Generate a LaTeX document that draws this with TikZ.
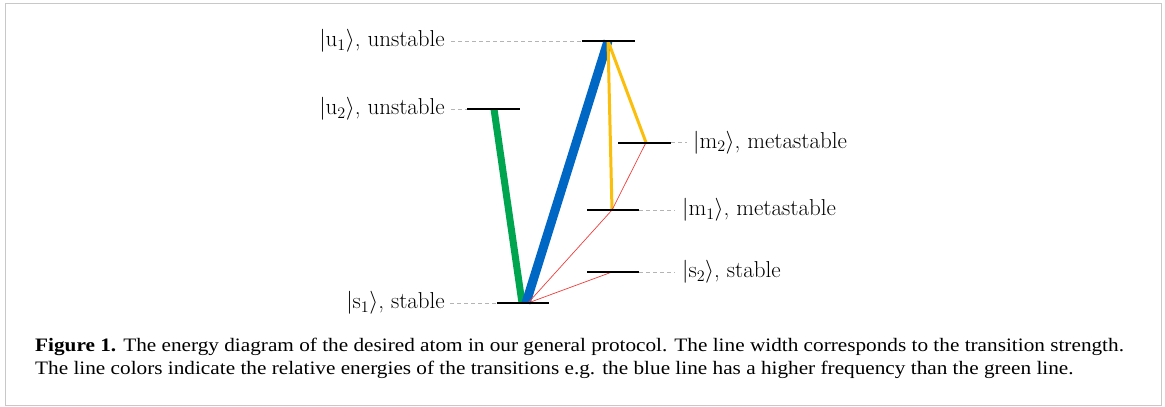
\RequirePackage{fix-cm}
\documentclass[tikz,border=0pt]{standalone}
\usepackage{fontspec}
\newfontfamily\capfont[FakeStretch=1.118]{Liberation Serif}
\definecolor{frame}{HTML}{C8C8C8}
\definecolor{dashgray}{HTML}{B4B4B4}
\definecolor{tblue}{HTML}{0068C4}
\definecolor{tgreen}{HTML}{00A550}
\definecolor{tyellow}{HTML}{FBBE0A}
\definecolor{tred}{HTML}{F03C3C}
\tikzset{
  level/.style={line width=2pt, black},
  guide/.style={dashgray, line width=1pt, dash pattern=on 4pt off 3pt},
  lbl/.style={inner sep=0pt, font=\fontsize{23}{27}\selectfont},
  capline/.style={inner sep=0pt, anchor=base west, font=\capfont\fontsize{19}{23}\selectfont},
  trans/.style={line cap=butt}
}
\begin{document}
\begin{tikzpicture}[x=1pt,y=-1pt]
\useasboundingbox (0,0) rectangle (1165,407);
\draw[frame, line width=1.5pt] (5.5,3.5) rectangle (1161.5,405.5);

% level end points
\coordinate (u1L) at (582,41);  \coordinate (u1R) at (635,41);
\coordinate (u2L) at (467,109); \coordinate (u2R) at (520,109);
\coordinate (m2L) at (618,142.5); \coordinate (m2R) at (671,142.5);
\coordinate (m1L) at (587,210); \coordinate (m1R) at (639,210);
\coordinate (s2L) at (587,272); \coordinate (s2R) at (639,272);
\coordinate (s1L) at (497,303); \coordinate (s1R) at (549,303);

% transition anchor points
\coordinate (u1) at (608,41);
\coordinate (u2) at (494,109);
\coordinate (m2) at (646,142.5);
\coordinate (m1) at (612,210);
\coordinate (s2) at (612,272);
\coordinate (s1g) at (522,303);
\coordinate (s1b) at (526,303);
\coordinate (s1) at (528,303);

% labels
\node[lbl, anchor=east] (Lu1) at (445,41) {$|\mathrm{u}_1\rangle$, unstable};
\node[lbl, anchor=east] (Lu2) at (445,109) {$|\mathrm{u}_2\rangle$, unstable};
\node[lbl, anchor=east] (Ls1) at (445,303) {$|\mathrm{s}_1\rangle$, stable};
\node[lbl, anchor=west] (Lm2) at (693,142.5) {$|\mathrm{m}_2\rangle$, metastable};
\node[lbl, anchor=west] (Lm1) at (682,210) {$|\mathrm{m}_1\rangle$, metastable};
\node[lbl, anchor=west] (Ls2) at (682,272) {$|\mathrm{s}_2\rangle$, stable};

% guides
\draw[guide] ([xshift=6pt]Lu1.east) -- (u1L);
\draw[guide] ([xshift=6pt]Lu2.east) -- (u2L);
\draw[guide] ([xshift=5pt]Ls1.east) -- (s1L);
\draw[guide] (m2R) -- ([xshift=-6pt]Lm2.west);
\draw[guide] (m1R) -- ([xshift=-7pt]Lm1.west);
\draw[guide] (s2R) -- ([xshift=-7pt]Ls2.west);

% transitions
\draw[trans, tgreen, line width=7pt] (u2) -- (s1g);
\draw[trans, tblue, line width=9pt] (u1) -- (s1b);
\draw[trans, tyellow, line width=3pt] (u1) -- (m1);
\draw[trans, tyellow, line width=3pt] (u1) -- (m2);
\draw[tred, line width=0.7pt] (s1) -- (m1);
\draw[tred, line width=0.7pt] (s1) -- (s2);
\draw[tred, line width=0.7pt] (m1) -- (m2);

% levels
\draw[level] (u1L) -- (u1R);
\draw[level] (u2L) -- (u2R);
\draw[level] (m2L) -- (m2R);
\draw[level] (m1L) -- (m1R);
\draw[level] (s2L) -- (s2R);
\draw[level] (s1L) -- (s1R);

% caption
\node[capline] (cap1) at (35,351) {\textbf{Figure 1.} The energy diagram of the desired atom in our general protocol. The line width corresponds to the transition strength.};
\node[capline] (cap2) at (35,374) {The line colors indicate the relative energies of the transitions e.g. the blue line has a higher frequency than the green line.};
\end{tikzpicture}
\end{document}
